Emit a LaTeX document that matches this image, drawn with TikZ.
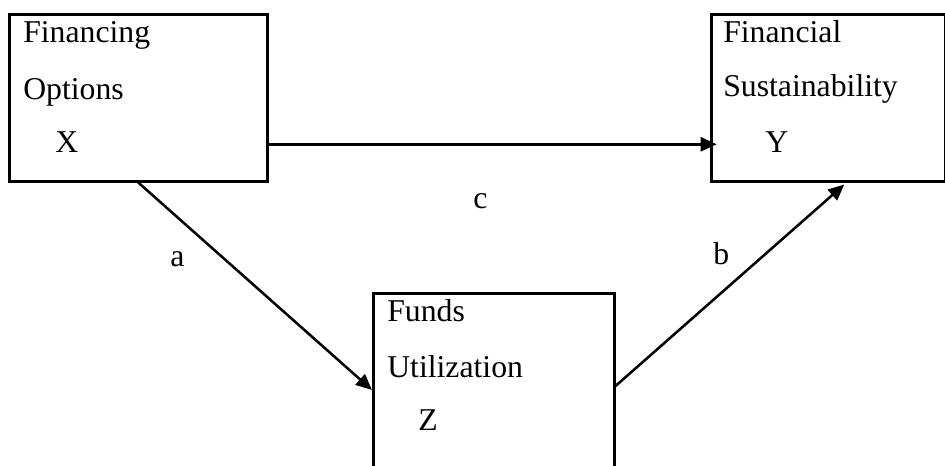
\documentclass[tikz,border=0pt]{standalone}
\usepackage{fontspec}
\setmainfont{Liberation Serif}
\usetikzlibrary{arrows.meta}
\begin{document}
\begin{tikzpicture}[x=0.75pt,y=-0.75pt,
  box/.style={draw, line width=1.9pt, inner sep=0pt, anchor=north west},
  lbl/.style={anchor=base west, inner sep=0pt, font=\fontsize{23.8}{28}\selectfont},
  conn/.style={line width=1.9pt, -{Triangle[length=12pt,width=10.5pt]}}]
\useasboundingbox (0,0) rectangle (945,466);
\clip (0,0) rectangle (945,466);
% boxes
\node[box, minimum width=193.5pt, minimum height=125.25pt] (X) at (8,13) {};
\node[box, minimum width=175.5pt, minimum height=125.25pt] (Y) at (710,13) {};
\node[box, minimum width=180.75pt, minimum height=156pt] (Z) at (372,292) {};
% box texts
\node[lbl] (x1) at (23,43) {Financing};
\node[lbl] (x2) at (23,100) {Options};
\node[lbl] (x3) at (55,153) {X};
\node[lbl] (y1) at (723,43) {Financial};
\node[lbl] (y2) at (723,97) {Sustainability};
\node[lbl] (y3) at (765,153) {Y};
\node[lbl] (z1) at (387,322) {Funds};
\node[lbl] (z2) at (387,377) {Utilization};
\node[lbl] (z3) at (418,430) {Z};
% connectors
\draw[conn] ([yshift=-34.9pt]X.east) -- ([xshift=5pt,yshift=-34.9pt]Y.west);
\draw[conn] (X.south) -- ([yshift=-73.5pt]Z.north west);
\draw[conn] ([yshift=-70.5pt]Z.north east) -- ([xshift=12pt,yshift=-1.5pt]Y.south);
% path labels
\node[lbl] (la) at (170,267) {a};
\node[lbl] (lb) at (713,265) {b};
\node[lbl] (lc) at (473,209) {c};
\end{tikzpicture}
\end{document}
